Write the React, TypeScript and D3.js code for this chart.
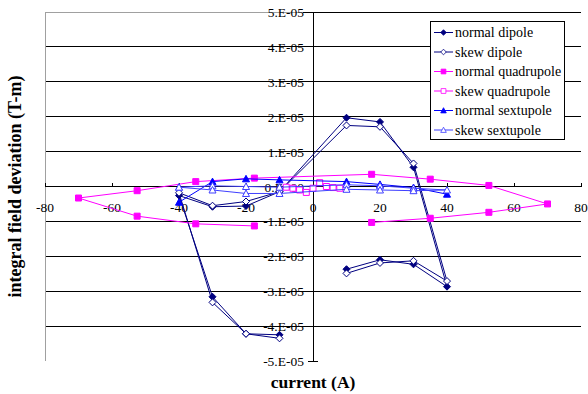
import React, { useRef, useEffect } from "react";
import * as d3 from "d3";

// values (current in A, field in T-m)
const dipoleX = [-10, -20, -30, -40, -30, -20, -10, 10, 20, 30, 40, 30, 20, 10];
const normalDipole = [-4.25e-5, -4.22e-5, -3.16e-5, -0.26e-5, -0.58e-5, -0.56e-5, -0.15e-5, 1.97e-5, 1.85e-5, 0.55e-5, -2.87e-5, -2.23e-5, -2.1e-5, -2.37e-5];
const skewDipole = [-4.35e-5, -4.22e-5, -3.32e-5, -0.18e-5, -0.55e-5, -0.43e-5, -0.15e-5, 1.75e-5, 1.71e-5, 0.66e-5, -2.71e-5, -2.13e-5, -2.19e-5, -2.49e-5];

const quadX = [-17.5, -35, -52.5, -70, -52.5, -35, -17.5, 17.5, 35, 52.5, 70, 52.5, 35, 17.5];
const normalQuad = [-1.13e-5, -1.07e-5, -0.85e-5, -0.33e-5, -0.12e-5, 0.14e-5, 0.24e-5, 0.35e-5, 0.21e-5, 0.03e-5, -0.5e-5, -0.74e-5, -0.91e-5, -1.03e-5];
const skewQuadX = [-8, -6, -4, -2, 0, 2, 4, 6, 8];
const skewQuad = [-0.02e-5, -0.05e-5, -0.1e-5, -0.17e-5, -0.05e-5, 0.11e-5, 0.0, -0.03e-5, -0.05e-5];

const sextX = [-40, -30, -20, -10, 10, 20, 30, 40];
const normalSext = [-0.45e-5, 0.14e-5, 0.22e-5, 0.19e-5, 0.14e-5, 0.06e-5, -0.03e-5, -0.22e-5];
const skewSextX = [-40, -30, -20, -10, 10, 20, 30, 40, 30, 20, 10, -10, -20, -30, -40];
const skewSext = [-0.02e-5, 0.02e-5, 0.0, -0.02e-5, 0.05e-5, 0.02e-5, -0.05e-5, -0.1e-5, -0.12e-5, -0.1e-5, -0.08e-5, -0.2e-5, -0.2e-5, -0.1e-5, -0.02e-5];

const xTicks = [-80, -60, -40, -20, 0, 20, 40, 60, 80];
const yTicks = [5e-5, 4e-5, 3e-5, 2e-5, 1e-5, 0, -1e-5, -2e-5, -3e-5, -4e-5, -5e-5];
const yTickLabels = ["5.E-05", "4.E-05", "3.E-05", "2.E-05", "1.E-05", "0.E+00", "-1.E-05", "-2.E-05", "-3.E-05", "-4.E-05", "-5.E-05"];

const series = [
  { name: "normal dipole", xs: dipoleX, ys: normalDipole, color: "#000080", marker: "diamond", filled: true },
  { name: "skew dipole", xs: dipoleX, ys: skewDipole, color: "#000080", marker: "diamond", filled: false },
  { name: "normal quadrupole", xs: quadX, ys: normalQuad, color: "#ff00ff", marker: "square", filled: true },
  { name: "skew quadrupole", xs: skewQuadX, ys: skewQuad, color: "#ff00ff", marker: "square", filled: false },
  { name: "normal sextupole", xs: sextX, ys: normalSext, color: "#0000ff", marker: "triangle", filled: true },
  { name: "skew sextupole", xs: skewSextX, ys: skewSext, color: "#3f3fff", marker: "triangle", filled: false },
];

const FONT = "'Liberation Serif', 'Times New Roman', serif";

function markerPath(type: string) {
  if (type === "diamond") return "M0,-3.5L3.5,0L0,3.5L-3.5,0Z";
  if (type === "square") return "M-3,-3H3V3H-3Z";
  return "M0,-3.5L3.5,3L-3.5,3Z";
}

export default function App() {
  const ref = useRef<SVGSVGElement>(null);

  useEffect(() => {
    if (!ref.current) return;
    const svg = d3.select(ref.current);
    svg.selectAll("*").remove();

    const x = d3.scaleLinear().domain([-80, 80]).range([45, 581]);
    const y = d3.scaleLinear().domain([-5e-5, 5e-5]).range([361, 12]);

    // gridlines
    svg.selectAll(".grid")
      .data(yTicks.filter(t => t > -5e-5))
      .enter()
      .append("line")
      .attr("x1", x(-80))
      .attr("x2", x(80))
      .attr("y1", d => y(d))
      .attr("y2", d => y(d))
      .attr("stroke", "#000")
      .attr("stroke-width", 1)
      .attr("shape-rendering", "crispEdges");

    // plot border (left and top-left)
    svg.append("line")
      .attr("x1", x(-80)).attr("x2", x(-80))
      .attr("y1", y(5e-5)).attr("y2", y(-5e-5))
      .attr("stroke", "#a0a0a0").attr("shape-rendering", "crispEdges");
    svg.append("line")
      .attr("x1", x(-80)).attr("x2", x(0) - 10)
      .attr("y1", y(5e-5)).attr("y2", y(5e-5))
      .attr("stroke", "#a0a0a0").attr("shape-rendering", "crispEdges");

    // x axis
    svg.append("line")
      .attr("x1", x(-80)).attr("x2", x(80))
      .attr("y1", y(0)).attr("y2", y(0))
      .attr("stroke", "#000").attr("shape-rendering", "crispEdges");
    svg.selectAll(".xtick")
      .data(xTicks)
      .enter()
      .append("line")
      .attr("x1", d => x(d)).attr("x2", d => x(d))
      .attr("y1", y(0) - 4).attr("y2", y(0))
      .attr("stroke", "#000").attr("shape-rendering", "crispEdges");
    svg.selectAll(".xlab")
      .data(xTicks)
      .enter()
      .append("text")
      .attr("x", d => x(d))
      .attr("y", y(0) + 25)
      .attr("text-anchor", "middle")
      .style("font-family", FONT)
      .style("font-size", "13.5px")
      .text(d => String(d));

    // y axis
    svg.append("line")
      .attr("x1", x(0)).attr("x2", x(0))
      .attr("y1", y(5e-5)).attr("y2", y(-5e-5))
      .attr("stroke", "#000").attr("shape-rendering", "crispEdges");
    svg.selectAll(".ytick")
      .data(yTicks)
      .enter()
      .append("line")
      .attr("x1", x(0) - 5).attr("x2", x(0) + 5)
      .attr("y1", d => y(d)).attr("y2", d => y(d))
      .attr("stroke", "#000").attr("shape-rendering", "crispEdges");
    svg.selectAll(".ylab")
      .data(yTicks)
      .enter()
      .append("text")
      .attr("x", x(0) - 9)
      .attr("y", d => y(d) + 5)
      .attr("text-anchor", "end")
      .style("font-family", FONT)
      .style("font-size", "13.5px")
      .text((_, i) => yTickLabels[i]);

    // series
    const line = d3.line<[number, number]>().x(d => x(d[0])).y(d => y(d[1]));
    series.forEach(s => {
      const pts: [number, number][] = s.xs.map((v, i) => [v, s.ys[i]]);
      svg.append("path")
        .attr("d", line(pts) || "")
        .attr("fill", "none")
        .attr("stroke", s.color)
        .attr("stroke-width", 1);
      svg.selectAll(null)
        .data(pts)
        .enter()
        .append("path")
        .attr("d", markerPath(s.marker))
        .attr("transform", d => `translate(${x(d[0])},${y(d[1])})`)
        .attr("fill", s.filled ? s.color : "#fff")
        .attr("stroke", s.color)
        .attr("stroke-width", 1);
    });

    // legend
    const lg = svg.append("g").attr("transform", "translate(430,21)");
    lg.append("rect")
      .attr("x", 0.5).attr("y", 0.5)
      .attr("width", 134).attr("height", 118)
      .attr("fill", "#fff").attr("stroke", "#000");
    series.forEach((s, i) => {
      const ly = 11.5 + i * 19.5;
      lg.append("line")
        .attr("x1", 4).attr("x2", 23)
        .attr("y1", ly).attr("y2", ly)
        .attr("stroke", s.color);
      lg.append("path")
        .attr("d", markerPath(s.marker))
        .attr("transform", `translate(13.5,${ly}) scale(0.8)`)
        .attr("fill", s.filled ? s.color : "#fff")
        .attr("stroke", s.color);
      lg.append("text")
        .attr("x", 25)
        .attr("y", ly + 4.5)
        .style("font-family", FONT)
        .style("font-size", "14px")
        .text(s.name);
    });

    // axis titles
    svg.append("text")
      .attr("x", x(0))
      .attr("y", 388)
      .attr("text-anchor", "middle")
      .style("font-family", FONT)
      .style("font-size", "17.5px")
      .style("font-weight", "bold")
      .text("current (A)");
    svg.append("text")
      .attr("transform", `translate(21,${y(0)}) rotate(-90)`)
      .attr("text-anchor", "middle")
      .style("font-family", FONT)
      .style("font-size", "18px")
      .style("font-weight", "bold")
      .text("integral field deviation (T-m)");
  }, []);

  return (
    <svg
      ref={ref}
      width={588}
      height={394}
      style={{ position: "absolute", left: 0, top: 0, background: "#fff" }}
    />
  );
}
